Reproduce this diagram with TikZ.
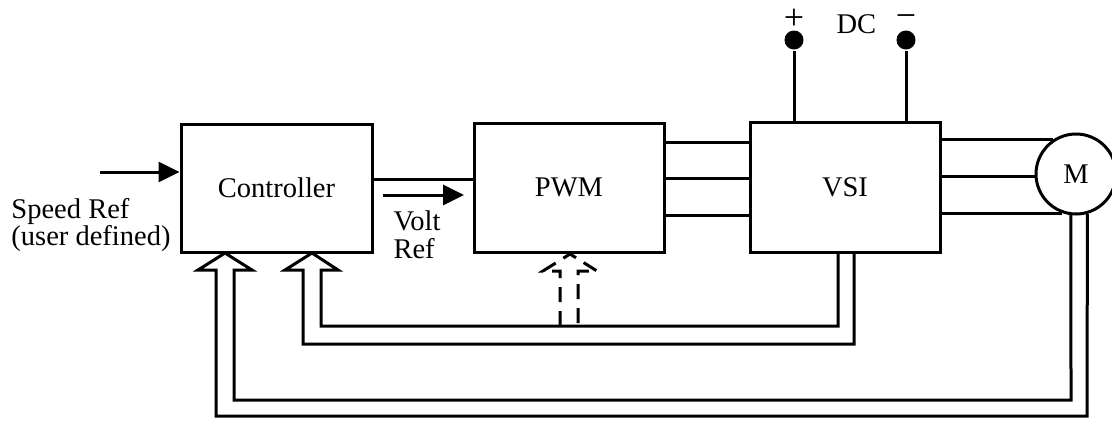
\documentclass[tikz,border=0pt]{standalone}
\usepackage{fontspec}
\setmainfont{Liberation Serif}
\usetikzlibrary{arrows.meta}
\begin{document}
\begin{tikzpicture}[x=1pt,y=-1pt,line width=3pt,
  block/.style={draw,rectangle,inner sep=0pt,font=\fontsize{28.5}{30}\selectfont},
  lbl/.style={inner sep=0pt,font=\fontsize{28.5}{30}\selectfont},
  sig/.style={-{Triangle[length=21pt,width=20pt]}},
  fb/.style={draw,line join=miter},
  dot/.style={circle,fill,inner sep=0pt,minimum size=19pt}]
\useasboundingbox (0,0) rectangle (1112,421);
\clip (0,0) rectangle (1112,421);
% blocks
\node[block,minimum width=191pt,minimum height=128pt] (ctrl) at (276.5,188) {Controller};
\node[block,minimum width=190pt,minimum height=129pt] (pwm) at (569,187.5) {PWM};
\node[block,minimum width=190pt,minimum height=130pt] (vsi) at (845,187) {VSI};
\node[draw,circle,inner sep=0pt,minimum size=80pt,font=\fontsize{28.5}{30}\selectfont] (mot) at (1076,174) {M};
% labels
\node[lbl,anchor=base west] (sr1) at (10,218) {Speed Ref};
\node[lbl,anchor=base west] (sr2) at (10,245) {(user defined)};
\node[lbl,anchor=base west] (vr1) at (392,230) {Volt};
\node[lbl,anchor=base west] (vr2) at (392,258) {Ref};
\node[lbl,anchor=base west] (dc) at (835,33) {DC};
\node[lbl,font=\fontsize{36}{38}\selectfont] (plus) at (794,19) {+};
\node[lbl,font=\fontsize{36}{38}\selectfont] (minus) at (906,21) {−};
% DC terminals
\node[dot] (tp) at (794,40) {};
\node[dot] (tm) at (906,40) {};
\draw (tp) -- (tp |- vsi.north);
\draw (tm) -- (tm |- vsi.north);
% input arrows
\coordinate (srs) at (100,172);
\draw[sig] (srs) -- (srs -| ctrl.west);
\coordinate (vrs) at (383,195);
\coordinate (vre) at (464,195);
\draw[sig] (vrs) -- (vre);
\coordinate (cp) at (0,179);
\draw (ctrl.east |- cp) -- (pwm.west |- cp);
% three-phase lines
\foreach \yy/\nm in {142/a,178/b,215/c}{
  \coordinate (ph\nm) at (0,\yy);
  \draw (pwm.east |- ph\nm) -- (vsi.west |- ph\nm);
}
\draw (vsi.east |- mot.124.4) -- (mot.124.4);
\draw (vsi.east |- mot.184.3) -- (mot.184.3);
\draw (vsi.east |- mot.251.8) -- (mot.251.8);
% feedback from VSI
\draw[fb] (vsi.south -| 838,0) -- (838,326) -- (321,326) -- (321,270) -- (338,270)
  -- (312,253) -- (285,270) -- (303,270) -- (303,344) -- (854,344) -- (vsi.south -| 854,0);
% feedback from motor
\draw[fb] (mot.263) -- (1071,400) -- (234,400) -- (234,270) -- (252,270)
  -- (225,253) -- (198,270) -- (216,270) -- (216,416) -- (1087,416) -- (mot.286);
% dashed arrow to PWM
\draw[fb,dash pattern=on 15pt off 9pt] (560,326) -- (560,271) -- (543,271) -- (570,254)
  -- (597,271) -- (578,271) -- (578,326);
\end{tikzpicture}
\end{document}
